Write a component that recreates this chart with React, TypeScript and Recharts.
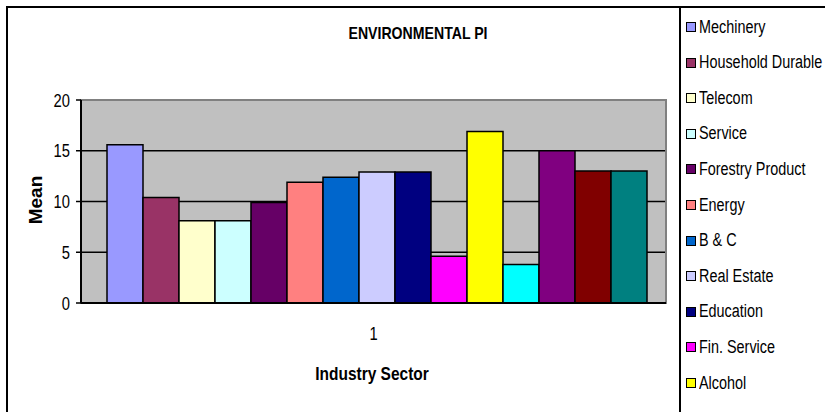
import React from 'react';
import { BarChart, Bar, XAxis, YAxis, CartesianGrid, ReferenceArea } from 'recharts';

const sectors = [
  'Mechinery', 'Household Durable', 'Telecom', 'Service', 'Forestry Product', 'Energy',
  'B & C', 'Real Estate', 'Education', 'Fin. Service', 'Alcohol',
  'Series 12', 'Series 13', 'Series 14', 'Series 15',
];
const means = [15.6, 10.4, 8.1, 8.1, 9.9, 11.9, 12.4, 12.9, 12.9, 4.6, 16.9, 3.8, 15.0, 13.0, 13.0];
const colors = [
  '#9999FF', '#993366', '#FFFFCC', '#CCFFFF', '#660066', '#FF8080', '#0066CC', '#CCCCFF',
  '#000080', '#FF00FF', '#FFFF00', '#00FFFF', '#800080', '#800000', '#008080',
];
const categories = ['1'];
const yTicks = [0, 5, 10, 15, 20];

const FONT = "'Liberation Sans', Arial, sans-serif";
const H = 412;
const LEGEND_TOP = 27;
const LEGEND_STEP = 35.6;

const row: Record<string, string | number> = { name: categories[0] };
means.forEach((v, i) => { row[`s${i}`] = v; });
const data = [row];

// Excel-style narrow text: squeeze horizontally
const YTick = ({ x, y, payload }: any) => (
  <text transform={`translate(${x},${y}) scale(0.82,1)`} textAnchor="end" dominantBaseline="central" fontFamily={FONT} fontSize={18} fill="#000">
    {payload.value}
  </text>
);

const XTick = ({ x, y, payload }: any) => (
  <text transform={`translate(${x},${y + 22}) scale(0.82,1)`} textAnchor="middle" dominantBaseline="central" fontFamily={FONT} fontSize={18} fill="#000">
    {payload.value}
  </text>
);

export default function App() {
  const visible = sectors.filter((_, i) => LEGEND_TOP + i * LEGEND_STEP + 10 <= H);
  return (
    <div style={{ position: 'fixed', left: 0, top: 0, width: 825, height: H, overflow: 'hidden', background: '#fff', fontFamily: FONT }}>
      <div style={{ position: 'absolute', left: 6, top: 6, width: 1000, height: 1000, borderLeft: '2px solid #000', borderTop: '2px solid #000' }} />
      <div style={{ position: 'absolute', left: 679, top: 6, width: 400, height: 1000, borderLeft: '2px solid #000' }} />
      <div style={{ position: 'absolute', left: 218, width: 400, top: 24, textAlign: 'center', fontWeight: 'bold', fontSize: 17, lineHeight: '20px', transform: 'scaleX(0.83)' }}>
        ENVIRONMENTAL PI
      </div>
      <div style={{ position: 'absolute', left: 35.5, top: 200, transform: 'translate(-50%, -50%) rotate(-90deg)', fontWeight: 'bold', fontSize: 19, lineHeight: '20px', whiteSpace: 'nowrap' }}>
        Mean
      </div>
      <div style={{ position: 'absolute', left: 172, width: 400, top: 364, textAlign: 'center', fontWeight: 'bold', fontSize: 18, lineHeight: '20px', transform: 'scaleX(0.86)' }}>
        Industry Sector
      </div>
      <div style={{ position: 'absolute', left: 0, top: 0 }}>
        <BarChart width={825} height={H} data={data} margin={{ top: 100, right: 159, bottom: 49, left: 0 }} barGap={0} barCategoryGap={26}>
          <CartesianGrid vertical={false} fill="#C0C0C0" fillOpacity={1} stroke="#000" strokeWidth={1.5} />
          <ReferenceArea y1={0} y2={20} fill="none" stroke="#808080" strokeWidth={2} ifOverflow="visible" />
          <XAxis xAxisId="edge" type="number" domain={[0, 1]} ticks={[0, 1]} height={0} tick={false}
            tickSize={6} axisLine={false} tickLine={{ stroke: '#000', strokeWidth: 2 }} />
          <XAxis dataKey="name" height={60} tickLine={false} axisLine={{ stroke: '#000', strokeWidth: 2 }} tick={<XTick />} />
          <YAxis width={81} domain={[0, 20]} ticks={yTicks} interval={0} tickSize={5} tickMargin={6}
            axisLine={{ stroke: '#000', strokeWidth: 2 }} tickLine={{ stroke: '#000', strokeWidth: 1.5 }} tick={<YTick />} />
          {means.map((_, i) => (
            <Bar key={i} dataKey={`s${i}`} name={sectors[i]} fill={colors[i]} stroke="#000" strokeWidth={1.5} isAnimationActive={false} />
          ))}
        </BarChart>
      </div>
      <div style={{ position: 'absolute', left: 686, top: 0 }}>
        {visible.map((s, i) => (
          <div key={s} style={{ position: 'absolute', left: 0, top: LEGEND_TOP + i * LEGEND_STEP - 10, height: 20, display: 'flex', alignItems: 'center', whiteSpace: 'nowrap', fontSize: 18 }}>
            <span style={{ display: 'inline-block', width: 8, height: 8, background: colors[i], border: '1px solid #000', marginRight: 3 }} />
            <span style={{ display: 'inline-block', transform: 'scaleX(0.8)', transformOrigin: 'left center' }}>{s}</span>
          </div>
        ))}
      </div>
    </div>
  );
}
